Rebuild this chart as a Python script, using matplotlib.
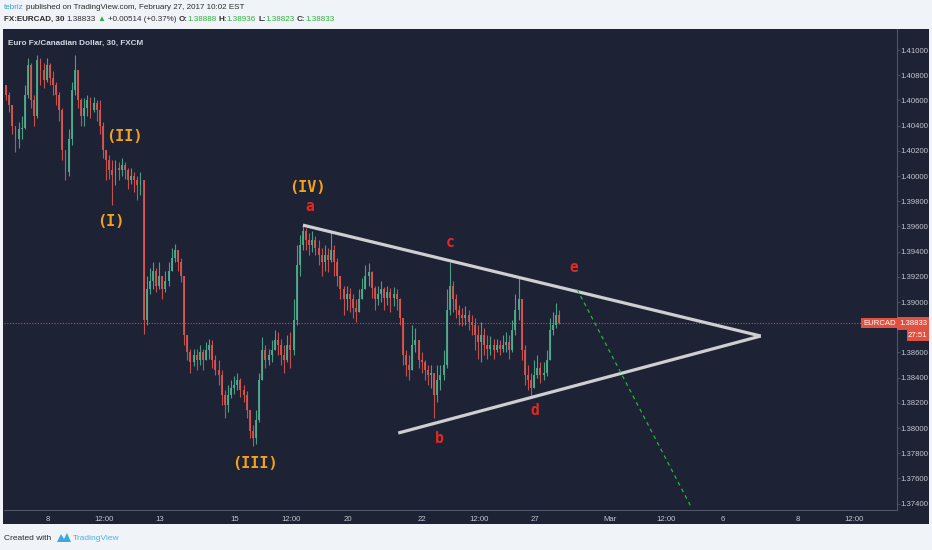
import numpy as np
import matplotlib
matplotlib.use("Agg")
import matplotlib.pyplot as plt
from matplotlib import font_manager as fm
from matplotlib.patches import Rectangle, Polygon

# ---------------- data ----------------
# 2-hour candles; x axis = trading-time index in 30-min bars (0 = session of Mon Feb 13)
candle_first_bar = -199
bars_per_candle = 4
first_open = 1.4072

closes = [
    1.4064, 1.4056, 1.4040, 1.4029, 1.4037, 1.4038, 1.4064, 1.4088, 1.4060, 1.4048,
    1.4092, 1.4084, 1.4076, 1.4088, 1.4078, 1.4072, 1.4064, 1.4052, 1.4021, 1.4003,
    1.4029, 1.4068, 1.4084, 1.4060, 1.4048, 1.4054, 1.4060, 1.4052, 1.4058, 1.4052,
    1.4040, 1.4021, 1.4013, 1.4005, 1.4001, 1.4006, 1.4005, 1.4009, 1.4005, 1.3997,
    1.4000, 1.3997, 1.3993, 1.3997, 1.3886, 1.3910, 1.3917, 1.3925, 1.3913, 1.3921,
    1.3910, 1.3917, 1.3925, 1.3935, 1.3941, 1.3932, 1.3921, 1.3874, 1.3860, 1.3852,
    1.3858, 1.3854, 1.3860, 1.3854, 1.3862, 1.3866, 1.3854, 1.3846, 1.3842, 1.3826,
    1.3818, 1.3826, 1.3832, 1.3834, 1.3838, 1.3830, 1.3826, 1.3814, 1.3798, 1.3792,
    1.3806, 1.3838, 1.3862, 1.3854, 1.3858, 1.3862, 1.3870, 1.3866, 1.3858, 1.3854,
    1.3866, 1.3862, 1.3886, 1.3929, 1.3945, 1.3956, 1.3949, 1.3945, 1.3949, 1.3943,
    1.3937, 1.3932, 1.3937, 1.3933, 1.3941, 1.3932, 1.3921, 1.3910, 1.3902, 1.3906,
    1.3902, 1.3895, 1.3892, 1.3902, 1.3910, 1.3921, 1.3924, 1.3911, 1.3902, 1.3906,
    1.3910, 1.3903, 1.3908, 1.3903, 1.3906, 1.3902, 1.3887, 1.3858, 1.3850, 1.3846,
    1.3866, 1.3870, 1.3854, 1.3852, 1.3846, 1.3842, 1.3844, 1.3826, 1.3838, 1.3842,
    1.3850, 1.3894, 1.3913, 1.3902, 1.3894, 1.3890, 1.3887, 1.3890, 1.3884, 1.3882,
    1.3874, 1.3868, 1.3874, 1.3866, 1.3863, 1.3866, 1.3862, 1.3866, 1.3863, 1.3866,
    1.3868, 1.3862, 1.3878, 1.3894, 1.3902, 1.3862, 1.3842, 1.3838, 1.3832, 1.3842,
    1.3848, 1.3842, 1.3844, 1.3854, 1.3878, 1.3882, 1.3890, 1.38833]

highs = [
    1.4072, 1.4067, 1.4052, 1.4040, 1.4043, 1.4048, 1.4072, 1.4094, 1.4090, 1.4064,
    1.4096, 1.4094, 1.4090, 1.4094, 1.4090, 1.4083, 1.4075, 1.4067, 1.4054, 1.4021,
    1.4037, 1.4075, 1.4096, 1.4084, 1.4062, 1.4062, 1.4064, 1.4063, 1.4063, 1.4060,
    1.4060, 1.4043, 1.4021, 1.4017, 1.4013, 1.4013, 1.4011, 1.4014, 1.4011, 1.4006,
    1.4006, 1.4003, 1.4000, 1.4003, 1.3997, 1.3921, 1.3927, 1.3932, 1.3927, 1.3932,
    1.3921, 1.3925, 1.3932, 1.3943, 1.3946, 1.3941, 1.3935, 1.3921, 1.3874, 1.3863,
    1.3863, 1.3863, 1.3866, 1.3863, 1.3868, 1.3871, 1.3870, 1.3858, 1.3854, 1.3846,
    1.3830, 1.3834, 1.3838, 1.3841, 1.3844, 1.3840, 1.3834, 1.3829, 1.3814, 1.3802,
    1.3814, 1.3844, 1.3872, 1.3866, 1.3863, 1.3870, 1.3878, 1.3876, 1.3871, 1.3866,
    1.3874, 1.3876, 1.3902, 1.3945, 1.3953, 1.3961, 1.3959, 1.3955, 1.3956, 1.3952,
    1.3949, 1.3943, 1.3945, 1.3943, 1.3956, 1.3945, 1.3935, 1.3921, 1.3913, 1.3913,
    1.3911, 1.3906, 1.3902, 1.3910, 1.3919, 1.3929, 1.3931, 1.3925, 1.3913, 1.3913,
    1.3917, 1.3912, 1.3913, 1.3911, 1.3912, 1.3910, 1.3903, 1.3887, 1.3862, 1.3858,
    1.3882, 1.3879, 1.3868, 1.3860, 1.3854, 1.3850, 1.3850, 1.3842, 1.3850, 1.3850,
    1.3862, 1.3910, 1.3932, 1.3917, 1.3906, 1.3898, 1.3895, 1.3897, 1.3894, 1.3890,
    1.3887, 1.3882, 1.3884, 1.3879, 1.3874, 1.3873, 1.3871, 1.3871, 1.3870, 1.3874,
    1.3876, 1.3874, 1.3886, 1.3906, 1.3919, 1.3902, 1.3866, 1.3850, 1.3844, 1.3854,
    1.3858, 1.3852, 1.3852, 1.3862, 1.3887, 1.3892, 1.3899, 1.38936]

lows = [
    1.4060, 1.4051, 1.4033, 1.4019, 1.4022, 1.4029, 1.4037, 1.4062, 1.4054, 1.4040,
    1.4046, 1.4072, 1.4070, 1.4075, 1.4072, 1.4064, 1.4056, 1.4044, 1.4013, 1.3997,
    1.4000, 1.4025, 1.4064, 1.4054, 1.4040, 1.4040, 1.4048, 1.4046, 1.4051, 1.4044,
    1.4033, 1.4014, 1.3997, 1.3998, 1.3977, 1.3993, 1.3997, 1.4000, 1.3998, 1.3990,
    1.3994, 1.3987, 1.3981, 1.3985, 1.3875, 1.3882, 1.3906, 1.3910, 1.3908, 1.3910,
    1.3902, 1.3908, 1.3913, 1.3925, 1.3932, 1.3925, 1.3916, 1.3866, 1.3854, 1.3844,
    1.3849, 1.3846, 1.3850, 1.3846, 1.3854, 1.3855, 1.3848, 1.3842, 1.3834, 1.3818,
    1.3808, 1.3813, 1.3824, 1.3827, 1.3830, 1.3825, 1.3821, 1.3808, 1.3792, 1.3786,
    1.3787, 1.3805, 1.3838, 1.3848, 1.3850, 1.3852, 1.3862, 1.3858, 1.3850, 1.3844,
    1.3852, 1.3848, 1.3858, 1.3882, 1.3921, 1.3941, 1.3941, 1.3937, 1.3940, 1.3937,
    1.3929, 1.3921, 1.3925, 1.3924, 1.3932, 1.3921, 1.3913, 1.3902, 1.3890, 1.3894,
    1.3892, 1.3887, 1.3884, 1.3892, 1.3902, 1.3910, 1.3913, 1.3903, 1.3894, 1.3898,
    1.3900, 1.3894, 1.3898, 1.3892, 1.3897, 1.3894, 1.3882, 1.3850, 1.3841, 1.3838,
    1.3846, 1.3860, 1.3848, 1.3844, 1.3838, 1.3834, 1.3832, 1.3808, 1.3821, 1.3830,
    1.3838, 1.3848, 1.3890, 1.3892, 1.3887, 1.3882, 1.3881, 1.3882, 1.3878, 1.3874,
    1.3862, 1.3855, 1.3852, 1.3858, 1.3855, 1.3858, 1.3855, 1.3860, 1.3858, 1.3860,
    1.3860, 1.3855, 1.3860, 1.3874, 1.3886, 1.3854, 1.3834, 1.3830, 1.3825, 1.3834,
    1.3840, 1.3836, 1.3838, 1.3841, 1.3854, 1.3874, 1.3879, 1.38823]

last_price = 1.38833
countdown = "27:51"
price_ticks = [1.374, 1.376, 1.378, 1.380, 1.382, 1.384, 1.386, 1.388, 1.390,
               1.392, 1.394, 1.396, 1.398, 1.400, 1.402, 1.404, 1.406, 1.408, 1.410]
time_tick_bars = [-144, -72, 0, 96, 168, 240, 336, 408, 480, 576, 648, 720, 816, 888]
time_tick_labels = ["8", "12:00", "13", "15", "12:00", "20", "22", "12:00", "27",
                    "Mar", "12:00", "6", "8", "12:00"]

# triangle trend lines (bar, price)
upper_line_bars = [183, 769]
upper_line_prices = [1.3961, 1.3873]
lower_line_bars = [305, 769]
lower_line_prices = [1.3796, 1.3873]
projection_bars = [534, 681]
projection_prices = [1.3910, 1.3736]

wave_labels = ["(I)", "(II)", "(III)", "(IV)"]
wave_bars = [-63, -45, 122, 189]
wave_prices = [1.3964, 1.4031, 1.3772, 1.3991]
abc_labels = ["a", "b", "c", "d", "e"]
abc_bars = [192, 358, 371, 480, 529]
abc_prices = [1.3976, 1.3792, 1.3947, 1.3814, 1.3927]

# ---------------- style ----------------
names = {f.name for f in fm.fontManager.ttflist}
NARROW = "Liberation Sans Narrow" if "Liberation Sans Narrow" in names else "Liberation Sans"
plt.rcParams["font.family"] = [NARROW, "DejaVu Sans"]

W, H = 932, 550
BG = "#f0f3f7"
DARK = "#1e2235"
GRID = "#50556a"
AXTXT = "#c3c6cf"
UP = "#4fae8c"
DOWN = "#d9564e"
ORANGE = "#f5a21b"
RED = "#e8281e"
TVRED = "#e0513f"
TICK_FS = 5.6

fig = plt.figure(figsize=(W / 100, H / 100), dpi=100, facecolor=BG)

def fx(px):
    return px / W

def fy(py):
    return 1 - py / H

# dark chart panel (behind everything)
fig.patches.append(Rectangle((fx(3), fy(524)), fx(926), 495 / H, transform=fig.transFigure,
                             facecolor=DARK, edgecolor="none", zorder=-10))

ax = fig.add_axes([fx(4), fy(510), fx(893), 481 / H])
ax.set_zorder(1)
ax.set_facecolor(DARK)
ax.set_xlim(-199.7, 943.4)
ax.set_ylim(1.373492, 1.411667)

# candles
c = np.array(closes)
o = np.concatenate([[first_open], c[:-1]])
hi = np.maximum(np.array(highs), np.maximum(o, c))
lo = np.minimum(np.array(lows), np.minimum(o, c))
x = candle_first_bar + bars_per_candle * np.arange(len(c)) + bars_per_candle / 2
cols = np.where(c >= o, UP, DOWN)
ax.vlines(x, lo, hi, colors=cols, linewidth=0.8, alpha=0.9, zorder=2)
body = np.maximum(np.abs(c - o), 0.00004)
ax.bar(x, body, bottom=np.minimum(o, c), width=2.5, color=cols, linewidth=0, alpha=0.9, zorder=3)

# last price line
ax.axhline(last_price, color=TVRED, linewidth=0.8, linestyle=(0, (1, 1.5)), alpha=0.85, zorder=1)

# triangle and projection
ax.plot(upper_line_bars, upper_line_prices, color="#cfcfd2", linewidth=2.3,
        solid_capstyle="butt", zorder=4)
ax.plot(lower_line_bars, lower_line_prices, color="#cfcfd2", linewidth=2.3,
        solid_capstyle="butt", zorder=4)
ax.plot(projection_bars, projection_prices, color="#1fb83a", linewidth=0.9,
        linestyle=(0, (3, 3)), zorder=4)

for s, xb, yp in zip(wave_labels, wave_bars, wave_prices):
    ax.text(xb, yp, s, color=ORANGE, fontsize=11, fontweight="bold",
            family=["DejaVu Sans Mono"], ha="center", va="center", zorder=5)
for s, xb, yp in zip(abc_labels, abc_bars, abc_prices):
    ax.text(xb, yp, s, color=RED, fontsize=10.5, fontweight="bold",
            family=["DejaVu Sans Mono"], ha="center", va="center", zorder=5)

# axes styling
for side in ["left", "top"]:
    ax.spines[side].set_visible(False)
ax.spines["right"].set_color(GRID)
ax.spines["bottom"].set_color(GRID)
ax.spines["right"].set_linewidth(0.8)
ax.spines["bottom"].set_linewidth(0.8)
ax.yaxis.tick_right()
ax.set_yticks(price_ticks)
# the tick label hidden behind the last-price badge in the reference is left blank
ax.set_yticklabels(["" if abs(v - last_price) < 0.0006 else f"{v:.5f}" for v in price_ticks])
ax.set_xticks(time_tick_bars)
ax.set_xticklabels(time_tick_labels)
ax.tick_params(axis="y", colors=GRID, labelcolor=AXTXT, labelsize=TICK_FS, length=2, width=0.6, pad=0.5)
ax.tick_params(axis="x", colors=GRID, labelcolor=AXTXT, labelsize=TICK_FS, length=0, pad=4)

# price line labels
ax.text(0.9985, last_price, "EURCAD", transform=ax.get_yaxis_transform(), ha="right", va="center",
        color="white", fontsize=TICK_FS, zorder=6,
        bbox=dict(boxstyle="square,pad=0.25", facecolor=TVRED, edgecolor="none"))
fig.patches.append(Rectangle((fx(897), fy(330)), fx(32), 13 / H, transform=fig.transFigure,
                             facecolor=TVRED, edgecolor="none", zorder=5))
fig.patches.append(Rectangle((fx(907), fy(341)), fx(22), 11 / H, transform=fig.transFigure,
                             facecolor=TVRED, edgecolor="none", zorder=5))
fig.text(fx(927.5), fy(323.5), f"{last_price:.5f}", ha="right", va="center", color="white",
         fontsize=TICK_FS, zorder=6)
fig.text(fx(927.5), fy(335.5), countdown, ha="right", va="center", color="white",
         fontsize=TICK_FS, zorder=6)

# title inside chart
fig.text(fx(8), fy(43), "Euro Fx/Canadian Dollar, 30, FXCM", color="#d5d8e0", fontsize=5.9,
         fontweight="bold", va="center", ha="left", zorder=5)

# header
renderer = fig.canvas.get_renderer()
HDR_FS = 5.8

def pieces(xpx, ypx, parts, size):
    for s, col, wt in parts:
        if s == " ":
            xpx += size * 0.35
            continue
        t = fig.text(fx(xpx), fy(ypx), s, color=col, fontsize=size, fontweight=wt,
                     va="center", ha="left")
        xpx += t.get_window_extent(renderer).width
    return xpx

GREEN = "#2fae3f"
DK = "#2b2b2b"
pieces(4, 7.5, [("tebriz", "#3aa3d8", "normal"), (" ", None, None),
                ("published on TradingView.com, February 27, 2017 10:02 EST", DK, "normal")], HDR_FS)
pieces(4, 19.5, [("FX:EURCAD, 30", DK, "bold"), (" ", None, None),
                 ("1.38833", DK, "normal"), (" ", None, None), ("\u25B2", GREEN, "normal"),
                 (" ", None, None), ("+0.00514 (+0.37%)", DK, "normal"), (" ", None, None),
                 ("O:", DK, "bold"), ("1.38888", GREEN, "normal"), (" ", None, None),
                 ("H:", DK, "bold"), ("1.38936", GREEN, "normal"), (" ", None, None),
                 ("L:", DK, "bold"), ("1.38823", GREEN, "normal"), (" ", None, None),
                 ("C:", DK, "bold"), ("1.38833", GREEN, "normal")], HDR_FS)

# footer
fig.text(fx(4), fy(538), "Created with", color=DK, fontsize=6.0, va="center", ha="left")
logo = Polygon([[fx(57), fy(542)], [fx(61), fy(534)], [fx(64), fy(539)], [fx(67), fy(533)],
                [fx(71), fy(542)]], closed=True, transform=fig.transFigure,
               facecolor="#3ea7dc", edgecolor="none")
fig.patches.append(logo)
fig.text(fx(73), fy(538), "TradingView", color="#4eb0e0", fontsize=6.0, va="center", ha="left")

fig.savefig("out.png", dpi=100, facecolor=BG)
